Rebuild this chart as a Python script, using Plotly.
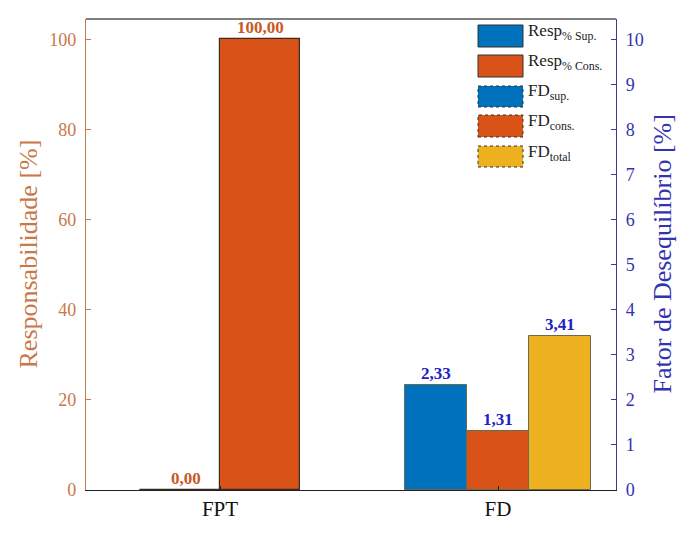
import plotly.graph_objects as go

categories = ["FPT", "FD"]
resp_labels = ["Resp<sub>% Sup.</sub>", "Resp<sub>% Cons.</sub>"]
resp_values = [0.00, 100.00]          # at FPT
fd_labels = ["FD<sub>sup.</sub>", "FD<sub>cons.</sub>", "FD<sub>total</sub>"]
fd_values = [2.33, 1.31, 3.41]        # at FD
left_ticks = [0, 20, 40, 60, 80, 100]
right_ticks = list(range(0, 11))
left_title = "Responsabilidade [%]"
right_title = "Fator de Desequilíbrio [%]"

C_BLUE = "#0072BD"
C_ORANGE = "#D95319"
C_YELLOW = "#EDB120"
LEFT_COL = "#C8784A"
RIGHT_COL = "#3A3A9C"
RIGHT_TXT = "#3333B0"
FONT = "Liberation Serif"

W, H = 698, 535
L, R, T, B = 78, 608, 11, 482
PXU = 278     # px per category unit
X0 = 212      # pixel of first category

fig = go.Figure()

wr = 0.288
resp_cols = [C_BLUE, C_ORANGE]
resp_offs = [-wr, 0.0]
for i in range(2):
    fig.add_trace(go.Bar(
        x=[categories[0]], y=[resp_values[i]], width=wr, offset=resp_offs[i],
        marker=dict(color=resp_cols[i], line=dict(color="#3a2a20", width=1.2)),
        yaxis="y", showlegend=False, name=resp_labels[i]))

wf = 0.223
fd_cols = [C_BLUE, C_ORANGE, C_YELLOW]
fd_offs = [-1.5 * wf, -0.5 * wf, 0.5 * wf]
for i in range(3):
    fig.add_trace(go.Bar(
        x=[categories[1]], y=[fd_values[i]], width=wf, offset=fd_offs[i],
        marker=dict(color=fd_cols[i], line=dict(color="#6a6a50", width=1)),
        yaxis="y2", showlegend=False, name=fd_labels[i]))

def fmt(v):
    return f"{v:.2f}".replace(".", ",")

ann = []
for i in range(2):
    ann.append(dict(x=categories[0], y=resp_values[i], xref="x", yref="y",
                    xshift=(resp_offs[i] + wr / 2) * PXU + (6 if i == 0 else 0), yshift=0,
                    text=f"<b>{fmt(resp_values[i])}</b>", showarrow=False,
                    yanchor="bottom", font=dict(family=FONT, size=17, color="#C85A28")))
for i in range(3):
    ann.append(dict(x=categories[1], y=fd_values[i], xref="x", yref="y2",
                    xshift=(fd_offs[i] + wf / 2) * PXU, yshift=0,
                    text=f"<b>{fmt(fd_values[i])}</b>", showarrow=False,
                    yanchor="bottom", font=dict(family=FONT, size=17, color="#2222C0")))

def px2paper_x(px):
    return (px - L) / (R - L)

def px2paper_y(py):
    return (B - py) / (B - T)

# axis titles
ann.append(dict(x=px2paper_x(20), y=0.5, xref="paper", yref="paper", textangle=-90,
                xanchor="center", yanchor="middle", showarrow=False, text=left_title,
                font=dict(family=FONT, size=26, color=LEFT_COL)))
ann.append(dict(x=px2paper_x(654), y=0.5, xref="paper", yref="paper", textangle=-90,
                xanchor="center", yanchor="middle", showarrow=False, text=right_title,
                font=dict(family=FONT, size=26, color=RIGHT_TXT)))

shapes = []
leg_labels = resp_labels + fd_labels
leg_cols = [C_BLUE, C_ORANGE, C_BLUE, C_ORANGE, C_YELLOW]
leg_dash = ["solid", "solid", "dot", "dot", "dot"]
rows = [(17, 39), (47, 69), (78, 99), (107, 129), (138, 159)]
for i, (y0, y1) in enumerate(rows):
    shapes.append(dict(type="rect", xref="paper", yref="paper",
                       x0=px2paper_x(470), x1=px2paper_x(515),
                       y0=px2paper_y(y1), y1=px2paper_y(y0),
                       fillcolor=leg_cols[i],
                       line=dict(color="#333333", width=1, dash=leg_dash[i])))
    ann.append(dict(x=px2paper_x(518), y=px2paper_y((y0 + y1) / 2 - 4),
                    xref="paper", yref="paper", xanchor="left", yanchor="middle",
                    text=leg_labels[i], showarrow=False,
                    font=dict(family=FONT, size=17, color="#222222")))

shapes.append(dict(type="line", xref="paper", yref="paper", x0=0, x1=1, y0=1, y1=1,
                   line=dict(color="black", width=1.2)))

fig.update_layout(
    width=W, height=H,
    margin=dict(l=L, r=W - R, t=T, b=H - B),
    paper_bgcolor="white", plot_bgcolor="white",
    barmode="overlay", bargap=0,
    font=dict(family=FONT, size=18),
    xaxis=dict(range=[(L - X0) / PXU, (R - X0) / PXU], tickvals=categories, ticktext=categories,
               showline=True, linecolor="#222222", linewidth=1.2,
               ticks="inside", ticklen=4, tickcolor="#222222",
               tickfont=dict(family=FONT, size=21, color="#111111"),
               showgrid=False, zeroline=False),
    yaxis=dict(range=[0, 104.5], tickvals=left_ticks,
               showline=True, linecolor=LEFT_COL, linewidth=1.2,
               ticks="inside", ticklen=5, tickcolor=LEFT_COL, ticklabelstandoff=5,
               tickfont=dict(family=FONT, size=18, color=LEFT_COL),
               showgrid=False, zeroline=False),
    yaxis2=dict(range=[0, 10.45], tickvals=right_ticks, overlaying="y", side="right",
                showline=True, linecolor=RIGHT_COL, linewidth=1.2,
                ticks="inside", ticklen=5, tickcolor=RIGHT_COL, ticklabelstandoff=5,
                tickfont=dict(family=FONT, size=18, color=RIGHT_TXT),
                showgrid=False, zeroline=False),
    annotations=ann, shapes=shapes,
)

fig.write_html("out.html")
